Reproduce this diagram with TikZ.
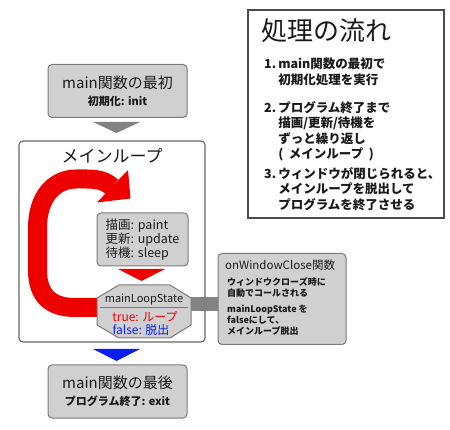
\documentclass[tikz,border=0pt]{standalone}
\usepackage{fontspec}
\setmainfont{Noto Sans CJK JP}
\usepackage{xcolor}
\usepackage{tikz}
\definecolor{boxgray}{HTML}{D0D0D0}
\definecolor{edgegray}{HTML}{7A7A7A}
\definecolor{arrowgray}{HTML}{828282}
\definecolor{loopred}{HTML}{EE0000}
\definecolor{exitblue}{HTML}{0A1EF0}
\definecolor{inkdark}{HTML}{1A1A1A}
\tikzset{
  grybox/.style={fill=boxgray, draw=edgegray, line width=1pt, rounded corners=4pt, inner sep=2pt, text=inkdark},
  loopframe/.style={fill=white, draw=black!60, line width=1.1pt, rounded corners=4pt},
  notebox/.style={fill=white, draw=black!70, line width=1.1pt},
  stepitem/.style={anchor=north west, inner sep=0pt, text=inkdark, font=\bfseries\fontsize{12.5}{15}\selectfont},
  loopband/.style={line width=19pt, draw=loopred, line cap=butt, line join=round},
  closebar/.style={line width=14pt, draw=arrowgray, line cap=butt},
  headtri/.style={line width=0pt},
  stategon/.style={fill=boxgray, draw=edgegray, line width=1pt, line join=round},
}
\begin{document}
\begin{tikzpicture}[x=1pt,y=-1pt]
\useasboundingbox (0,0) rectangle (450,430);
% summary on the right
\node[notebox, minimum width=196, minimum height=208] (summary) at (346,114) {};
\node[anchor=west, inner sep=0pt, text=inkdark, font=\fontsize{26}{30}\selectfont] (sumtitle) at (261,31) {処理の流れ};
\node[stepitem] (item1) at (264,58) {\begin{tabular}[t]{@{}l@{\,}l@{}}1. & main関数の最初で\\ & 初期化処理を実行\end{tabular}};
\node[stepitem] (item2) at (264,101.5) {\begin{tabular}[t]{@{}l@{\,}l@{}}2. & プログラム終了まで\\ & 描画/更新/待機を\\ & ずっと繰り返し\\ & (\ \ メインループ\ \ )\end{tabular}};
\node[stepitem] (item3) at (264,167.5) {\begin{tabular}[t]{@{}l@{\,}l@{}}3. & ウィンドウが閉じられると、\\ & メインループを脱出して\\ & プログラムを終了させる\end{tabular}};
% start
\node[grybox, minimum width=139, minimum height=53, align=center] (start) at (117.5,91)
  {{\fontsize{15}{18}\selectfont main関数の最初}\\[5pt]{\bfseries\fontsize{11}{14}\selectfont 初期化: init}};
\fill[arrowgray] (93,122) -- (140,122) -- (116.5,133) -- cycle;
% main loop
\node[loopframe, minimum width=186, minimum height=201] (mainloop) at (112,241.5) {};
\node[text=inkdark, font=\fontsize{17}{20}\selectfont] (looptitle) at (112,156) {メインループ};
\coordinate (loopfrom) at (98,307.5);
\coordinate (loopto) at (112,187);
\draw[loopband] (loopfrom) -- (75,307.5) .. controls (50,307.5) and (37.5,295) .. (37.5,270)
  -- (37.5,228) .. controls (37.5,196) and (55,179) .. (76,179) .. controls (90,179) and (103,178) .. (loopto);
\fill[loopred, headtri] (128,170) -- (130.5,198.5) -- (97,202.5) -- cycle;
\node[grybox, minimum width=91, minimum height=53, align=left, font=\fontsize{12.5}{14}\selectfont] (work) at (142.5,239.5)
  {描画: paint\\更新: update\\待機: sleep};
\fill[loopred] (118,269) -- (165,269) -- (141.5,281) -- cycle;
% loop state
\draw[stategon] (119,285) -- (170,285) -- (191,298) -- (191,325) -- (170,338) -- (119,338) -- (97,325) -- (97,298) -- cycle;
\node[text=inkdark, font=\fontsize{11}{13}\selectfont] (statename) at (144,299) {mainLoopState};
\draw[edgegray, line width=0.8pt] (100,307) -- (188,307);
\node[font=\fontsize{12}{13}\selectfont, align=center, inner sep=0pt] (stateval) at (143,323.5)
  {\textcolor{loopred}{\,\,true: ループ}\\\textcolor{exitblue}{false: 脱出\,\,}};
% window close handler
\node[grybox, minimum width=128, minimum height=91] (closebox) at (282,299) {};
\coordinate (stateeast) at (191,304);
\draw[closebar] (stateeast) -- (stateeast -| closebox.west);
\node[anchor=west, inner sep=0pt, text=inkdark, font=\fontsize{11.5}{14}\selectfont] (closetitle) at (225,265) {onWindowClose関数};
\node[anchor=north west, inner sep=0pt, align=left, text=inkdark, font=\bfseries\fontsize{9}{11.3}\selectfont] (closetext) at (227,277)
  {ウィンドウクローズ時に\\自動でコールされる\\[4.5pt]mainLoopState を\\falseにして、\\メインループ脱出};
% end
\fill[exitblue] (93,349) -- (140,349) -- (116.5,361) -- cycle;
\node[grybox, minimum width=139, minimum height=53, align=center] (finish) at (117.5,391.5)
  {{\fontsize{15}{18}\selectfont main関数の最後}\\[5pt]{\bfseries\fontsize{11}{14}\selectfont プログラム終了: exit}};
\end{tikzpicture}
\end{document}
